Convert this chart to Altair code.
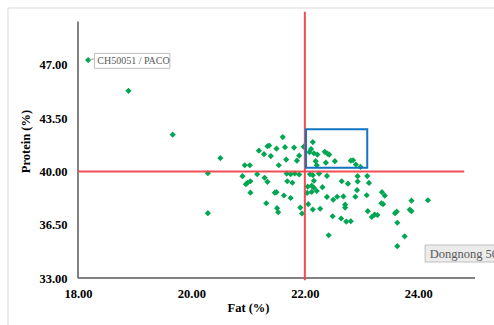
import altair as alt
import pandas as pd

# ---- data ----
fat = [18.18, 18.89, 19.67, 20.51, 20.29, 20.29,
       20.90, 20.94, 21.03, 20.99, 21.04, 20.96, 21.04, 21.19, 21.28, 21.34, 21.37, 21.40,
       21.16, 21.29, 21.34, 21.32, 21.47, 21.50, 21.51, 21.53, 21.50, 21.54, 21.61, 21.65,
       21.81, 21.67, 21.86, 21.90, 21.68, 21.75, 21.82, 21.90, 21.69, 21.78, 21.63, 21.75,
       21.92, 21.95, 21.98,
       22.14, 22.11, 22.08, 22.16, 22.22, 22.19, 22.21, 22.35, 22.40, 22.43, 22.37, 22.53,
       22.81, 22.85, 22.90, 22.98, 22.09, 22.14, 22.25, 22.16, 22.39, 22.05, 22.12, 22.16,
       22.31, 22.04, 22.12, 22.21, 22.65, 22.76, 22.93, 22.93, 23.10, 23.13, 22.92, 22.39,
       22.50, 22.57, 22.68, 22.71, 22.71, 22.89, 22.06, 22.14, 22.27, 22.49, 22.64, 22.73,
       22.81, 22.42, 23.09, 23.36, 23.41, 23.35, 23.38, 23.11, 23.18, 23.23, 23.28, 23.59,
       23.62, 23.63, 23.85, 23.88, 23.88, 24.17, 23.76, 23.63]
protein = [47.32, 45.30, 42.42, 40.88, 39.89, 37.26,
           39.69, 40.41, 40.41, 39.26, 39.36, 39.16, 38.61, 41.37, 41.14, 41.66, 41.70, 41.01,
           39.82, 39.59, 39.32, 37.91, 38.61, 38.64, 37.59, 37.32, 41.50, 40.41, 42.26, 41.60,
           41.57, 40.78, 40.71, 41.04, 39.86, 39.82, 39.87, 39.80, 39.36, 39.26, 38.42, 38.26,
           37.63, 37.24, 41.63,
           41.93, 41.47, 41.27, 41.20, 41.11, 40.68, 40.41, 41.29, 41.17, 41.11, 40.58, 40.68,
           40.71, 40.74, 40.46, 40.30, 39.82, 39.76, 39.86, 39.39, 39.71, 39.00, 39.07, 38.93,
           38.97, 38.59, 38.66, 38.72, 39.36, 39.20, 39.69, 39.34, 39.70, 39.25, 38.77, 38.33,
           38.14, 38.34, 38.36, 37.82, 37.63, 38.34, 37.85, 37.50, 37.55, 37.06, 36.91, 36.71,
           36.73, 35.81, 38.44, 38.64, 38.41, 37.91, 37.85, 37.39, 37.01, 37.17, 37.14, 37.26,
           37.36, 36.63, 37.49, 37.39, 38.08, 38.11, 35.74, 35.09]

x_ticks = [18, 20, 22, 24]
y_ticks = [33, 36.5, 40, 43.5, 47]

fat_threshold = 22.0
protein_threshold = 40.0
target_box = {"x": 22.02, "x2": 23.10, "y": 40.25, "y2": 42.77}

label1 = "CH50051 / PACO"
label2 = "Dongnong 50"

X_DOMAIN = [18, 25.335]
Y_DOMAIN = [33, 51.27]
X_AXIS_END = 25.0
Y_AXIS_END = 49.85

FONT = "Liberation Serif"
GREEN = "#00A651"
RED = "#F0434B"
BLUE = "#1474C4"

pts = pd.DataFrame({"fat": fat, "protein": protein})
xs = alt.Scale(domain=X_DOMAIN, nice=False, zero=False)
ys = alt.Scale(domain=Y_DOMAIN, nice=False, zero=False)

x_axis = alt.Axis(values=x_ticks, format=".2f", title="Fat (%)", domain=False, ticks=False,
                  grid=False, labelPadding=9, labelFont=FONT, labelFontSize=12.5,
                  labelFontWeight="bold", labelColor="#000000", labelOverlap=False,
                  labelFlush=False, labelBound=False,
                  titleFont=FONT, titleFontSize=12.5, titleFontWeight="bold", titleColor="#000000",
                  titleX=170, titleY=29, titleAlign="center", titleBaseline="middle")
y_axis = alt.Axis(values=y_ticks, format=".2f", title="Protein (%)", domain=False, ticks=False,
                  grid=False, labelPadding=11, labelFont=FONT, labelFontSize=12.5,
                  labelFontWeight="bold", labelColor="#000000", labelOverlap=False,
                  labelFlush=False, labelBound=False,
                  titleFont=FONT, titleFontSize=12.5, titleFontWeight="bold", titleColor="#000000",
                  titleX=-53, titleY=141, titleAngle=270, titleAlign="center",
                  titleBaseline="middle")

one = alt.Data(values=[{}])

frame_top = alt.Chart(one).mark_rule(color="#D9D9D9", strokeWidth=1).encode(
    x=alt.value(-70), x2=alt.value(420), y=alt.value(8))
frame_left = alt.Chart(one).mark_rule(color="#D9D9D9", strokeWidth=1).encode(
    x=alt.value(-70), y=alt.value(8), y2=alt.value(330))

points = alt.Chart(pts).mark_point(shape="diamond", filled=True, size=38, color=GREEN,
                                   opacity=1).encode(
    x=alt.X("fat:Q", scale=xs, axis=x_axis),
    y=alt.Y("protein:Q", scale=ys, axis=y_axis))

axis_lines = pd.DataFrame({
    "x": [X_DOMAIN[0], X_DOMAIN[0]], "x2": [X_AXIS_END, X_DOMAIN[0]],
    "y": [Y_DOMAIN[0], Y_DOMAIN[0]], "y2": [Y_DOMAIN[0], Y_AXIS_END]})
axes = alt.Chart(axis_lines).mark_rule(color="#595959", strokeWidth=1.5).encode(
    x=alt.X("x:Q", scale=xs), x2="x2:Q", y=alt.Y("y:Q", scale=ys), y2="y2:Q")

red_df = pd.DataFrame({
    "x": [fat_threshold, X_DOMAIN[0]], "x2": [fat_threshold, 24.81],
    "y": [32.85, protein_threshold], "y2": [50.5, protein_threshold]})
red = alt.Chart(red_df).mark_rule(color=RED, strokeWidth=2, opacity=0.95).encode(
    x=alt.X("x:Q", scale=xs), x2="x2:Q", y=alt.Y("y:Q", scale=ys), y2="y2:Q")

box = alt.Chart(pd.DataFrame([target_box])).mark_rect(
    fill=None, fillOpacity=0, stroke=BLUE, strokeWidth=2).encode(
    x=alt.X("x:Q", scale=xs), x2="x2:Q", y=alt.Y("y:Q", scale=ys), y2="y2:Q")

# label for CH50051 / PACO
lab1_box = alt.Chart(pd.DataFrame([{"x": 18.29, "x2": 19.62, "y": 46.78, "y2": 47.76}])).mark_rect(
    fill="white", stroke="#BFBFBF", strokeWidth=1).encode(
    x=alt.X("x:Q", scale=xs), x2="x2:Q", y=alt.Y("y:Q", scale=ys), y2="y2:Q")
lab1_leader = alt.Chart(pd.DataFrame([{"x": 18.2, "x2": 18.29, "y": 47.32, "y2": 47.42}])).mark_rule(
    color="#A6A6A6", strokeWidth=1).encode(
    x=alt.X("x:Q", scale=xs), x2="x2:Q", y=alt.Y("y:Q", scale=ys), y2="y2:Q")
lab1_text = alt.Chart(pd.DataFrame([{"x": 18.34, "y": 47.27, "t": label1}])).mark_text(
    align="left", baseline="middle", font=FONT, fontSize=10, color="#595959").encode(
    x=alt.X("x:Q", scale=xs), y=alt.Y("y:Q", scale=ys), text="t:N")

# label for Dongnong (cut at right edge, as in the reference)
lab2_box = alt.Chart(pd.DataFrame([{"x": 24.12, "x2": 25.6, "y": 34.05, "y2": 35.17}])).mark_rect(
    fill="#EBEBEB", stroke="#BFBFBF", strokeWidth=1, clip=True).encode(
    x=alt.X("x:Q", scale=xs), x2="x2:Q", y=alt.Y("y:Q", scale=ys), y2="y2:Q")
lab2_text = alt.Chart(pd.DataFrame([{"x": 24.20, "y": 34.61, "t": label2}])).mark_text(
    align="left", baseline="middle", font=FONT, fontSize=12.5, color="#595959", clip=True).encode(
    x=alt.X("x:Q", scale=xs), y=alt.Y("y:Q", scale=ys), text="t:N")

chart = alt.layer(frame_top, frame_left, points, axes, red, box, lab1_leader, lab1_box,
                  lab1_text, lab2_box, lab2_text).properties(
    width=416, height=278, autosize="none",
    padding={"left": 78, "top": 0, "right": 0, "bottom": 47},
    background="white").configure_view(stroke=None)

chart.save("out.html", embed_options={"renderer": "svg", "actions": False})
